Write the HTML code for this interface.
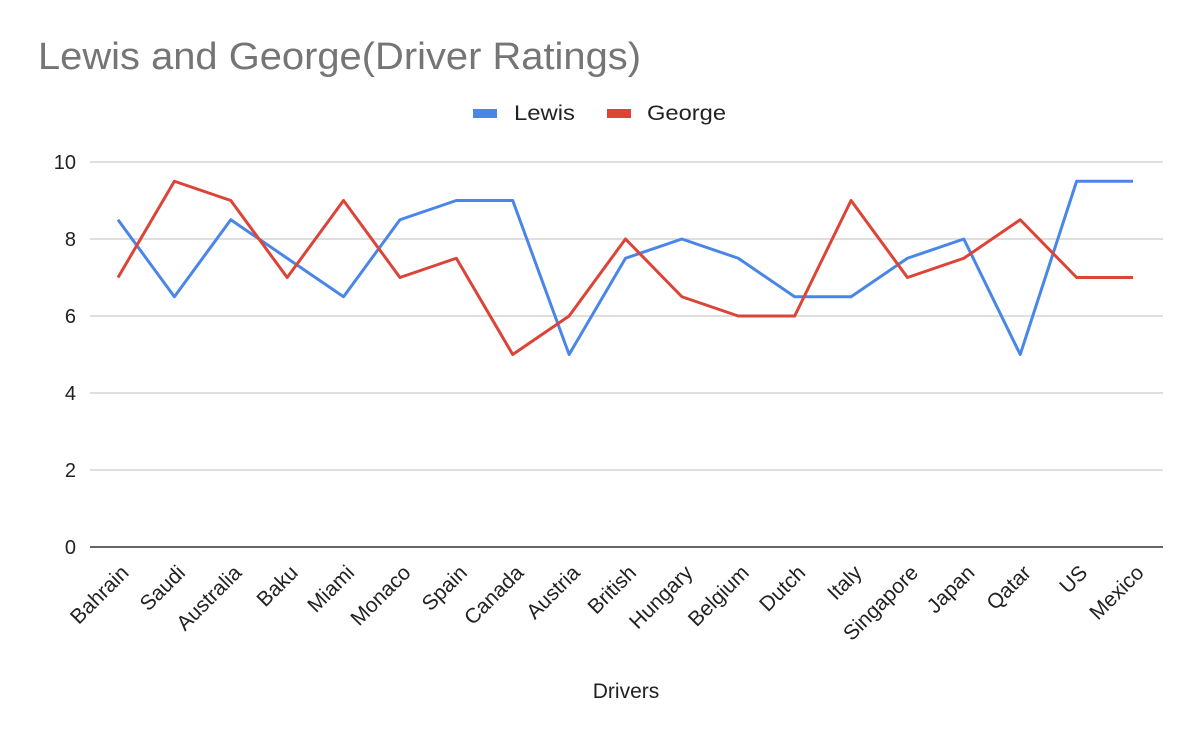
<!DOCTYPE html>
<html><head><meta charset="utf-8"><style>
body{margin:0;background:#fff}
svg{display:block}
text{font-family:"Liberation Sans",Arial,sans-serif}
</style></head><body>
<svg width="1200" height="742" xmlns="http://www.w3.org/2000/svg">
<rect width="1200" height="742" fill="#fff"/>
<text x="38" y="69" font-size="38" fill="#757575" textLength="603" lengthAdjust="spacingAndGlyphs">Lewis and George(Driver Ratings)</text>
<rect x="473" y="109" width="24" height="9" fill="#4a86e8"/>
<text x="514" y="120" font-size="21" fill="#222" textLength="61" lengthAdjust="spacingAndGlyphs">Lewis</text>
<rect x="607" y="109" width="24" height="9" fill="#db4437"/>
<text x="647" y="120" font-size="21" fill="#222" textLength="79" lengthAdjust="spacingAndGlyphs">George</text>
<g stroke="#cccccc" stroke-width="1.3">
<line x1="90" y1="162" x2="1163" y2="162"/>
<line x1="90" y1="239" x2="1163" y2="239"/>
<line x1="90" y1="316" x2="1163" y2="316"/>
<line x1="90" y1="393" x2="1163" y2="393"/>
<line x1="90" y1="470" x2="1163" y2="470"/>
</g>
<line x1="90" y1="547" x2="1163" y2="547" stroke="#333" stroke-width="1.5"/>
<g font-size="20" fill="#222" text-anchor="end">
<text x="76" y="169">10</text><text x="76" y="246">8</text><text x="76" y="323">6</text><text x="76" y="400">4</text><text x="76" y="477">2</text><text x="76" y="554">0</text>
</g>
<g id="xl" font-size="21" fill="#222" text-anchor="end"></g>
<polyline id="lw" fill="none" stroke="#4a86e8" stroke-width="3" stroke-linejoin="round"/>
<polyline id="gw" fill="none" stroke="#db4437" stroke-width="3" stroke-linejoin="round"/>
<text x="626" y="698" font-size="21" fill="#222" text-anchor="middle">Drivers</text>
</svg>
<script>
var n=["Bahrain","Saudi","Australia","Baku","Miami","Monaco","Spain","Canada","Austria","British","Hungary","Belgium","Dutch","Italy","Singapore","Japan","Qatar","US","Mexico"];
var L=[8.5,6.5,8.5,7.5,6.5,8.5,9,9,5,7.5,8,7.5,6.5,6.5,7.5,8,5,9.5,9.5];
var G=[7,9.5,9,7,9,7,7.5,5,6,8,6.5,6,6,9,7,7.5,8.5,7,7];
function X(i){return 118+i*(1133-118)/18}function Y(v){return 547-v*38.5}
document.getElementById("lw").setAttribute("points",L.map((v,i)=>X(i)+","+Y(v)).join(" "));
document.getElementById("gw").setAttribute("points",G.map((v,i)=>X(i)+","+Y(v)).join(" "));
var g=document.getElementById("xl"),s="";
n.forEach((t,i)=>{var x=X(i)+12,y=574;s+='<text x="'+x+'" y="'+y+'" transform="rotate(-45 '+x+' '+y+')">'+t+'</text>'});
g.innerHTML=s;
</script>
</body></html>
